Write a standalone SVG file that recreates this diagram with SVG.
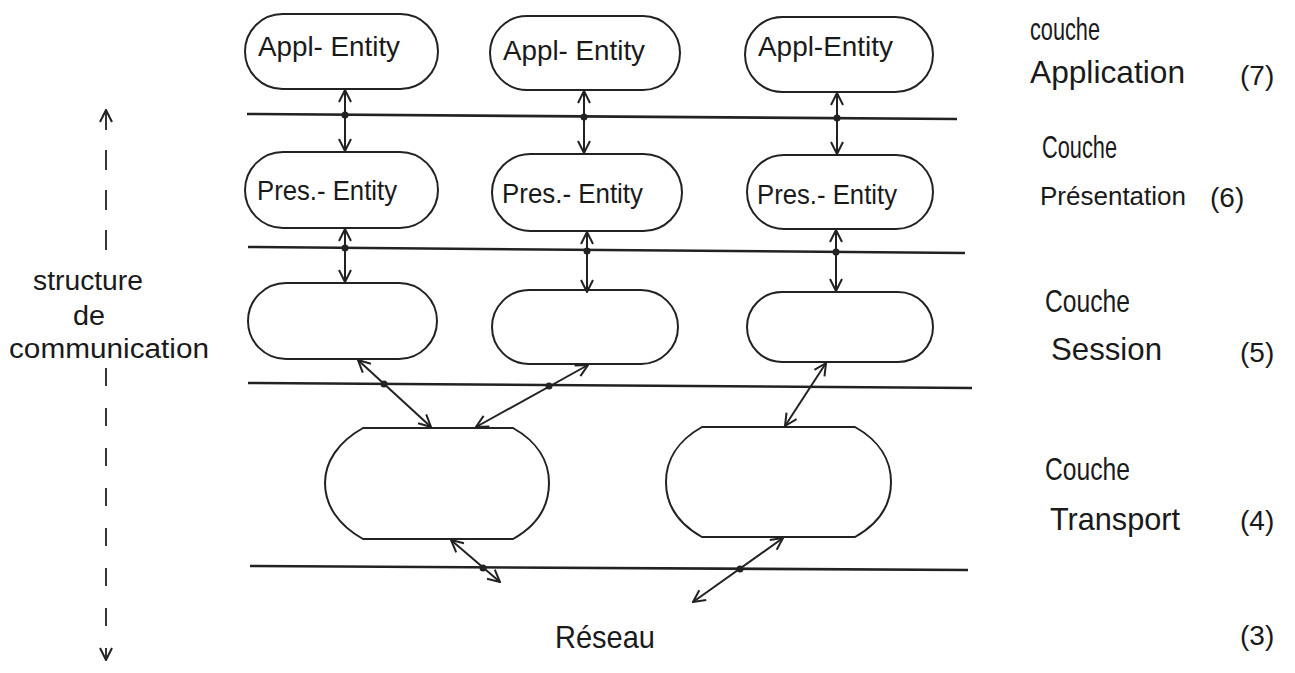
<svg xmlns="http://www.w3.org/2000/svg" width="1295" height="673" viewBox="0 0 1295 673">
  <style>
    .node { fill: none; stroke: #222; stroke-width: 2; }
    .layer { stroke: #222; stroke-width: 2.6; fill: none; }
    .link { stroke: #222; stroke-width: 2; fill: none; marker-start: url(#tip); marker-end: url(#tip); }
    .dot { fill: #222; }
    .lbl { font-family: "Liberation Sans", "DejaVu Sans", sans-serif; font-size: 32px; fill: #1a1a1a; }
    .side { font-family: "Liberation Sans", "DejaVu Sans", sans-serif; font-size: 27px; fill: #1a1a1a; }
    .num { font-family: "Liberation Sans", "DejaVu Sans", sans-serif; font-size: 28px; fill: #1a1a1a; }
    .ent { font-family: "Liberation Sans", "DejaVu Sans", sans-serif; font-size: 28px; fill: #1a1a1a; }
  </style>
  <defs>
    <marker id="tip" viewBox="0 0 14 14" refX="13" refY="7" markerWidth="14" markerHeight="14" markerUnits="userSpaceOnUse" orient="auto-start-reverse">
      <path d="M1,1 L13,7 L1,13" fill="none" stroke="#222" stroke-width="2"/>
    </marker>
  </defs>
  <rect width="1295" height="673" fill="#ffffff"/>

  <!-- layer boundaries -->
  <g id="layers">
    <line class="layer" x1="247" y1="114" x2="957" y2="119"/>
    <line class="layer" x1="248" y1="247" x2="965" y2="253"/>
    <line class="layer" x1="248" y1="383" x2="972" y2="388"/>
    <line class="layer" x1="250" y1="566" x2="968" y2="570"/>
  </g>

  <!-- application entities -->
  <g id="appl1"><rect class="node" x="245" y="14" width="193" height="75" rx="37.5"/><text class="ent" x="258" y="56" textLength="142" lengthAdjust="spacingAndGlyphs">Appl- Entity</text></g>
  <g id="appl2"><rect class="node" x="490" y="16" width="190" height="74" rx="37"/><text class="ent" x="503" y="60" textLength="142" lengthAdjust="spacingAndGlyphs">Appl- Entity</text></g>
  <g id="appl3"><rect class="node" x="745" y="17" width="188" height="75" rx="37.5"/><text class="ent" x="758" y="56" textLength="135" lengthAdjust="spacingAndGlyphs">Appl-Entity</text></g>

  <!-- presentation entities -->
  <g id="pres1"><rect class="node" x="245" y="152" width="193" height="76" rx="38"/><text class="ent" x="257" y="200" textLength="140" lengthAdjust="spacingAndGlyphs">Pres.- Entity</text></g>
  <g id="pres2"><rect class="node" x="492" y="154" width="190" height="77" rx="38.5"/><text class="ent" x="502" y="203" textLength="141" lengthAdjust="spacingAndGlyphs">Pres.- Entity</text></g>
  <g id="pres3"><rect class="node" x="747" y="155" width="186" height="74" rx="37"/><text class="ent" x="757" y="204" textLength="140" lengthAdjust="spacingAndGlyphs">Pres.- Entity</text></g>

  <!-- session entities -->
  <g id="sess1"><rect class="node" x="248" y="283" width="189" height="76" rx="38"/></g>
  <g id="sess2"><rect class="node" x="492" y="290" width="186" height="74" rx="37"/></g>
  <g id="sess3"><rect class="node" x="747" y="292" width="186" height="70" rx="35"/></g>

  <!-- transport entities -->
  <g id="trans1"><path class="node" d="M363,428 L513,428 C538,442 549,462 549,483 C549,505 538,525 513,539 L363,539 C338,525 325,505 325,483 C325,462 338,442 363,428 Z"/></g>
  <g id="trans2"><path class="node" d="M702,427 L855,427 C880,441 891,461 891,482 C891,504 880,523 855,537 L702,537 C677,523 666,504 666,482 C666,461 677,441 702,427 Z"/></g>

  <!-- connectors between layers -->
  <g id="connectors">
    <line class="link" x1="345" y1="90" x2="345" y2="151"/>
    <line class="link" x1="584" y1="91" x2="584" y2="153"/>
    <line class="link" x1="837" y1="93" x2="837" y2="154"/>
    <line class="link" x1="345" y1="229" x2="345" y2="282"/>
    <line class="link" x1="587" y1="232" x2="587" y2="292"/>
    <line class="link" x1="836" y1="230" x2="836" y2="291"/>
    <line class="link" x1="358" y1="360" x2="431" y2="427"/>
    <line class="link" x1="588" y1="365" x2="476" y2="427"/>
    <line class="link" x1="826" y1="363" x2="785" y2="426"/>
    <line class="link" x1="451" y1="540" x2="500" y2="582"/>
    <line class="link" x1="783" y1="538" x2="693" y2="602"/>
    <circle class="dot" cx="345" cy="115" r="3.5"/>
    <circle class="dot" cx="584" cy="117" r="3.5"/>
    <circle class="dot" cx="837" cy="118" r="3.5"/>
    <circle class="dot" cx="345" cy="248" r="3.5"/>
    <circle class="dot" cx="587" cy="251" r="3.5"/>
    <circle class="dot" cx="836" cy="252" r="3.5"/>
    <circle class="dot" cx="384" cy="384" r="3.5"/>
    <circle class="dot" cx="549" cy="386" r="3.5"/>
    <circle class="dot" cx="483" cy="568" r="3.5"/>
    <circle class="dot" cx="740" cy="569" r="3.5"/>
  </g>

  <!-- vertical extent of the communication structure -->
  <g id="extent">
    <line x1="106" y1="110" x2="106" y2="264" stroke="#222" stroke-width="1.8" stroke-dasharray="20 20" marker-start="url(#tip)"/>
    <line x1="106" y1="368" x2="106" y2="660" stroke="#222" stroke-width="1.8" stroke-dasharray="18 22" marker-end="url(#tip)"/>
    <text class="side" x="33" y="290" textLength="110" lengthAdjust="spacingAndGlyphs">structure</text>
    <text class="side" x="73" y="325" textLength="32" lengthAdjust="spacingAndGlyphs">de</text>
    <text class="side" x="9" y="358" textLength="200" lengthAdjust="spacingAndGlyphs">communication</text>
  </g>

  <!-- layer names -->
  <g id="labels">
    <text class="lbl" x="1030" y="40" textLength="70" lengthAdjust="spacingAndGlyphs">couche</text>
    <text class="lbl" x="1030" y="83" textLength="155" lengthAdjust="spacingAndGlyphs">Application</text>
    <text class="num" x="1240" y="85">(7)</text>
    <text class="lbl" x="1042" y="158" textLength="75" lengthAdjust="spacingAndGlyphs">Couche</text>
    <text class="side" x="1040" y="205" style="font-size:26px">Présentation</text>
    <text class="num" x="1210" y="207">(6)</text>
    <text class="lbl" x="1045" y="312" textLength="85" lengthAdjust="spacingAndGlyphs">Couche</text>
    <text class="lbl" x="1051" y="360" textLength="111" lengthAdjust="spacingAndGlyphs">Session</text>
    <text class="num" x="1240" y="362">(5)</text>
    <text class="lbl" x="1045" y="480" textLength="85" lengthAdjust="spacingAndGlyphs">Couche</text>
    <text class="lbl" x="1050" y="530" textLength="130" lengthAdjust="spacingAndGlyphs">Transport</text>
    <text class="num" x="1240" y="530">(4)</text>
    <text class="num" x="1240" y="645">(3)</text>
    <text class="lbl" x="555" y="648" textLength="100" lengthAdjust="spacingAndGlyphs">Réseau</text>
  </g>
</svg>
